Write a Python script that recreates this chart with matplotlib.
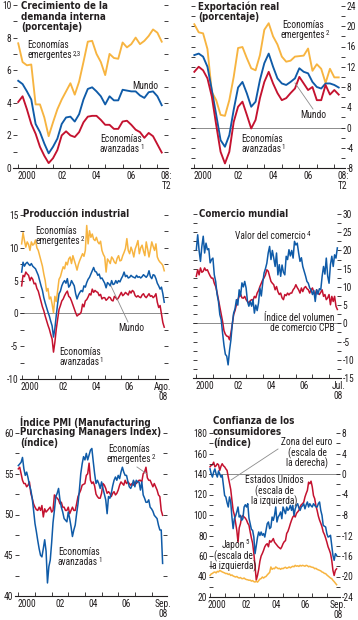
import matplotlib
matplotlib.use("Agg")
import matplotlib.pyplot as plt
import numpy as np
from matplotlib import font_manager
from matplotlib.font_manager import FontProperties
from matplotlib.textpath import TextPath

# --- fonts: the reference uses a condensed sans; take the installed face whose
# width is closest to it and size it so the text widths match.
WANT = {"Liberation Sans Narrow", "Liberation Sans", "DejaVu Sans", "Roboto", "Roboto Condensed",
        "Noto Sans", "Noto Sans Condensed", "Noto Sans SemiCondensed", "Open Sans",
        "Open Sans Condensed", "Lato", "Inter"}


def text_width(prop, s, size):
    return TextPath((0, 0), s, size=size, prop=prop).get_extents().width * 100 / 72


best = None
for f in font_manager.fontManager.ttflist:
    if f.name not in WANT or f.style != "normal" or f.weight not in (400, "normal", "regular"):
        continue
    w = text_width(FontProperties(fname=f.fname), "Valor del comercio", 7)
    if best is None or abs(w - 68) < best[0]:
        best = (abs(w - 68), w, f)
_, reg_w, reg_font = best
FS = float(np.clip(7 * 70 / reg_w, 6.3, 7.4))
plt.rcParams["font.family"] = [reg_font.name, "DejaVu Sans"]
plt.rcParams["font.stretch"] = reg_font.stretch
plt.rcParams["axes.unicode_minus"] = False

BOLD = FontProperties(family=["DejaVu Sans"], stretch="condensed", weight="bold")
TFS = float(np.clip(7 * 86 / text_width(BOLD, "Crecimiento de la", 7), 6.2, 7.6))
BOLD.set_size(TFS)

YELLOW = "#F7B440"
BLUE = "#0F5BA8"
RED = "#C4122F"
GREY = "#8C8C8C"
INK = "#231F20"

# ---------------- data ----------------
# quarterly, 2000:T1 .. 2008:T2
dem_emerg = [7.65, 6.5, 6.3, 6.35, 3.9, 3.9, 3.1, 1.95, 2.8, 3.6, 4.2, 4.7, 5.2, 4.5, 5.3, 6.5,
             7.75, 7.8, 7.0, 6.5, 5.7, 7.0, 6.75, 6.7, 7.7, 7.4, 7.6, 8.0, 7.6, 7.8, 8.1, 8.5, 8.3, 7.75]
dem_world = [5.35, 5.15, 4.7, 4.2, 2.7, 2.2, 1.5, 0.9, 1.3, 1.8, 2.7, 3.1, 3.15, 2.85, 3.3, 4.2,
             4.85, 4.95, 4.7, 4.4, 3.9, 4.4, 4.15, 4.15, 4.8, 4.75, 4.7, 4.7, 4.45, 4.3, 4.65, 4.7, 4.4, 3.85]
dem_adv = [4.05, 4.4, 3.6, 2.7, 2.1, 1.3, 0.75, 0.3, 0.6, 1.1, 2.0, 2.25, 2.0, 1.9, 2.2, 2.8,
           3.15, 3.2, 3.2, 2.95, 2.65, 2.65, 2.4, 2.4, 2.85, 2.9, 2.65, 2.35, 2.2, 1.85, 2.15, 1.95, 1.45, 0.95]

exp_emerg = [20.4, 18.8, 18.6, 15.5, 7.0, 5.4, 2.5, 2.3, 5.4, 10.0, 15.7, 15.9, 13.7, 11.7, 11.3, 14.3,
             19.3, 20.6, 18.0, 16.4, 14.0, 13.0, 13.2, 14.0, 14.1, 14.2, 15.6, 11.2, 12.5, 11.6, 8.8, 11.6, 9.9, 9.9]
exp_world = [14.3, 14.6, 14.0, 12.0, 7.4, 2.5, -2.5, -3.8, -1.5, 3.5, 7.9, 9.0, 6.75, 4.1, 5.1, 9.4,
             12.7, 14.6, 12.0, 9.7, 8.7, 8.4, 9.0, 9.7, 11.7, 11.0, 10.7, 9.0, 8.0, 7.7, 8.7, 8.7, 8.4, 7.9]
exp_adv = [11.0, 12.0, 11.3, 9.7, 6.1, 0.5, -4.8, -7.1, -4.8, 1.1, 4.1, 5.1, 2.5, -0.2, 1.5, 5.8,
           9.0, 11.0, 8.7, 6.8, 5.4, 5.8, 6.8, 7.7, 10.0, 8.7, 7.4, 8.0, 5.4, 5.4, 8.4, 6.5, 7.4, 6.5]

# monthly, ene-2000 .. ago-2008
ip_emerg = [10.6, 12.3, 11.1, 10.1, 10.9, 10.5, 9.6, 10.9, 10.4, 10.6, 11.2, 10.0,
            9.6, 8.8, 8.0, 7.2, 6.0, 5.0, 3.4, 3.8, 2.2, 2.5, 1.4, 0.1,
            2.6, 1.8, 3.5, 5.2, 5.6, 6.4, 7.1, 6.8, 7.8, 7.4, 8.3, 8.6,
            7.6, 8.8, 8.1, 7.4, 6.6, 7.5, 8.1, 8.6, 9.1, 8.7, 9.6, 13.4,
            10.6, 12.6, 11.6, 12.1, 11.3, 11.1, 11.6, 10.9, 10.6, 11.0, 9.6, 9.0,
            8.6, 6.3, 8.3, 8.0, 7.6, 8.6, 8.3, 7.8, 7.6, 8.4, 8.8, 8.0,
            8.1, 8.8, 9.3, 9.9, 11.4, 9.6, 9.1, 10.1, 9.5, 8.6, 9.8, 10.4,
            11.1, 9.1, 10.0, 10.4, 9.5, 8.8, 10.9, 9.8, 8.6, 9.7, 10.9, 10.2,
            9.6, 10.6, 8.6, 8.1, 7.8, 7.6, 7.3, 6.5]
ip_world = [6.3, 7.8, 7.2, 7.6, 7.8, 7.5, 7.3, 7.6, 7.2, 7.0, 6.8, 6.3,
            5.8, 5.0, 4.2, 3.5, 2.4, 1.6, 0.9, 0.2, -0.4, -1.2, -1.9, -3.6,
            -2.3, -0.3, 1.5, 3.0, 3.4, 4.2, 4.7, 5.0, 4.6, 5.3, 4.0, 4.3,
            5.0, 4.6, 4.2, 3.0, 2.2, 2.8, 3.2, 3.5, 3.3, 4.2, 4.0, 4.7,
            5.2, 5.5, 6.0, 6.5, 7.0, 6.4, 6.3, 5.8, 6.0, 5.3, 5.4, 5.0,
            4.6, 3.9, 4.7, 4.5, 4.2, 5.0, 4.4, 4.5, 5.0, 4.6, 5.0, 4.8,
            5.3, 5.7, 6.3, 5.6, 5.8, 5.4, 5.5, 5.8, 5.6, 5.5, 5.4, 5.8,
            5.5, 5.6, 5.4, 5.6, 5.9, 5.7, 5.5, 5.8, 6.5, 5.6, 5.3, 5.9,
            5.8, 5.3, 4.6, 4.2, 3.7, 4.0, 3.0, 1.7]
ip_adv = [4.2, 5.8, 5.6, 6.3, 6.0, 5.8, 5.0, 5.5, 5.2, 4.5, 4.6, 3.8,
          3.4, 2.6, 1.8, 1.0, 0.4, -0.4, -1.1, -1.8, -2.4, -3.2, -3.9, -5.9,
          -4.4, -2.4, -0.9, 0.6, 1.2, 1.9, 2.2, 2.7, 3.1, 3.4, 2.6, 2.4,
          1.9, 1.3, 0.7, 0.1, -0.4, -0.2, -0.1, 0.2, 1.4, 1.0, 1.9, 2.1,
          2.5, 3.0, 2.8, 3.7, 3.2, 3.5, 3.3, 3.2, 2.7, 2.9, 2.2, 2.4,
          2.4, 2.0, 2.2, 2.5, 2.4, 2.0, 1.9, 2.6, 2.4, 2.1, 2.4, 2.8,
          3.2, 2.7, 2.9, 3.2, 3.0, 2.8, 3.4, 3.1, 3.5, 3.3, 2.7, 2.5,
          2.7, 2.5, 2.4, 2.8, 3.0, 2.6, 2.4, 2.7, 3.0, 2.6, 2.7, 2.4,
          2.6, 3.0, 1.7, 0.9, 1.2, -0.1, -1.4, -2.1]

# monthly, ene-2000 .. jul-2008
trade_value = [20.2, 24.3, 20.0, 17.0, 21.1, 23.9, 19.3, 22.0, 20.2, 20.5, 16.6, 17.5,
               17.9, 13.3, 11.5, 8.0, 6.0, 2.4, 1.0, -2.7, -6.0, -8.5, -9.0, -11.4,
               -7.5, -4.6, -0.3, 2.8, 4.0, 6.5, 5.0, 9.2, 7.5, 11.1, 10.0, 11.5,
               9.7, 6.0, 4.7, 6.0, 4.7, 6.5, 2.8, 5.0, 3.5, 5.6, 9.7, 7.5,
               11.0, 13.8, 15.0, 16.5, 19.3, 21.1, 17.5, 20.0, 17.9, 15.6, 19.3, 13.3,
               16.1, 12.9, 16.0, 14.0, 13.3, 18.4, 17.5, 20.2, 18.5, 20.0, 17.9, 22.5,
               21.5, 22.0, 19.3, 17.0, 18.0, 15.6, 14.3, 13.0, 11.5, 11.0, 9.7, 9.2,
               7.9, 9.0, 6.0, 9.2, 8.0, 9.5, 9.2, 12.9, 15.6, 13.5, 17.9, 13.0,
               11.0, 16.1, 18.4, 15.6, 18.8, 17.9, 20.7]
trade_volume = [12.9, 14.7, 13.3, 15.2, 14.0, 14.3, 15.2, 14.5, 14.7, 13.8, 13.0, 12.4,
                12.4, 11.0, 10.1, 8.5, 6.5, 4.5, 2.5, 0.5, -2.0, -3.0, -3.5, -3.6,
                -4.5, -2.7, -0.3, 2.4, 3.5, 5.1, 6.5, 7.4, 8.0, 7.0, 6.9, 7.4,
                6.5, 6.0, 5.6, 6.2, 6.5, 6.3, 7.4, 7.0, 8.3, 9.0, 10.1, 11.0,
                11.9, 12.5, 13.3, 14.7, 14.3, 12.9, 11.5, 11.0, 10.6, 9.2, 10.1, 8.7,
                7.9, 8.3, 7.0, 6.5, 7.9, 7.6, 8.3, 7.8, 8.3, 8.3, 9.2, 9.7,
                10.6, 9.8, 9.2, 8.3, 9.7, 8.7, 9.7, 10.1, 9.5, 9.2, 8.3, 9.2,
                9.7, 8.5, 7.9, 9.2, 8.3, 7.9, 8.5, 9.2, 7.4, 7.9, 6.5, 7.0,
                7.9, 5.1, 7.4, 6.0, 7.4, 4.7, 3.8]

# monthly, ene-2000 .. sep-2008
pmi_adv = [56.0, 56.2, 56.4, 57.0, 55.6, 54.8, 55.2, 54.5, 53.6, 53.0, 52.0, 50.5,
           48.9, 47.9, 46.8, 45.8, 45.0, 44.8, 45.8, 46.9, 45.5, 41.6, 43.6, 44.4,
           46.5, 49.0, 50.5, 52.2, 52.6, 53.2, 51.8, 50.9, 50.3, 49.5, 49.3, 49.1,
           50.3, 49.5, 48.5, 47.3, 48.1, 48.7, 50.1, 51.3, 53.0, 55.0, 56.2, 57.1,
           56.7, 57.5, 56.7, 57.3, 57.9, 58.1, 56.5, 55.0, 53.8, 54.2, 53.8, 53.2,
           54.0, 53.2, 52.5, 51.8, 50.1, 52.2, 52.0, 52.6, 53.5, 54.2, 54.6, 54.2,
           54.8, 54.4, 55.2, 55.8, 55.2, 54.8, 54.8, 54.0, 53.4, 53.2, 53.6, 54.2,
           53.4, 54.2, 54.0, 54.0, 53.0, 54.0, 52.4, 52.0, 51.5, 51.5, 51.8, 50.9,
           50.7, 50.4, 49.9, 49.7, 49.5, 48.7, 48.1, 48.1, 44.0]
pmi_emerg = [55.6, 55.8, 55.0, 54.2, 53.8, 53.8, 53.4, 53.6, 54.0, 52.6, 52.0, 51.3,
             50.9, 50.6, 50.5, 50.9, 50.5, 51.1, 49.7, 50.7, 50.3, 50.5, 50.7, 50.9,
             50.3, 50.5, 52.4, 52.2, 52.0, 51.8, 51.3, 51.5, 50.9, 50.9, 50.5, 50.5,
             50.9, 50.1, 50.5, 50.9, 50.5, 50.5, 51.3, 52.2, 52.6, 53.0, 53.6, 53.7,
             53.8, 54.8, 55.0, 56.3, 54.2, 53.8, 54.0, 53.5, 52.5, 52.2, 52.0, 52.0,
             52.6, 53.8, 53.6, 53.2, 52.6, 52.8, 52.6, 52.2, 52.6, 52.8, 52.4, 52.6,
             53.0, 53.6, 54.0, 53.8, 53.6, 54.2, 53.8, 54.0, 53.8, 53.6, 53.8, 53.6,
             54.0, 53.8, 54.0, 54.2, 54.2, 54.0, 55.0, 55.2, 55.8, 54.5, 54.2, 54.2,
             53.8, 53.4, 53.8, 53.4, 53.0, 52.4, 52.2, 50.5, 49.9]

conf_us = [145, 140, 137, 142, 145, 140, 137, 143, 140, 137, 138.7, 129,
           119, 117.6, 112, 107.8, 117.6, 112.7, 98, 86.7, 96.4, 99, 103, 107.8,
           98, 99.7, 94.8, 96.4, 107.8, 110, 107.8, 111, 97, 91.5, 86, 85,
           78.5, 62.3, 70, 78, 83.4, 80, 83.4, 80.2, 81.8, 78.5, 85, 91.5,
           93.2, 86.7, 88, 98, 94.8, 99.7, 107.8, 93.2, 98, 100, 103, 96.4,
           107.8, 104.5, 101.3, 107.8, 104.5, 106, 109.4, 104.5, 109.4, 99.7, 106, 109.4,
           111, 107, 104.5, 107.8, 109, 111, 106, 110, 112.7, 107.8, 111, 109,
           107.8, 111, 109.4, 108, 107.8, 111, 112.7, 104.5, 99.7, 90, 89, 88.3,
           81.8, 78.5, 79, 80.2, 70.4, 60.6, 55.8, 62.3, 60.6]
conf_euro = [1.4, 1.7, 1.8, 2.3, 1.4, 1.6, 2.0, 1.8, 0.7, 1.5, 2.0, 1.6,
             1.4, 1.0, 0.7, -0.6, -1.8, -3.0, -5.1, -7.1, -8.0, -9.5, -11.0, -13.3,
             -10.5, -9.7, -8.4, -8.1, -8.4, -8.6, -9.0, -9.6, -10.0, -11.3, -12.5, -13.5,
             -15.5, -18.0, -20.7, -19.8, -18.6, -17.0, -16.0, -15.5, -14.9, -14.2, -13.8, -13.6,
             -14.2, -13.0, -13.3, -13.0, -12.6, -13.3, -13.6, -13.9, -14.2, -14.4, -14.6, -14.2,
             -13.6, -13.2, -13.0, -11.6, -11.2, -10.5, -9.7, -9.0, -8.4, -8.1, -8.4, -7.7,
             -7.4, -7.1, -6.4, -6.0, -5.8, -5.5, -4.5, -3.8, -3.2, -1.6, -1.9, -1.4,
             -2.5, -4.2, -4.8, -6.2, -7.1, -8.2, -9.0, -9.6, -10.3, -11.3, -11.8, -12.5,
             -13.3, -14.2, -14.8, -15.5, -16.8, -18.8, -19.8, -18.8, -18.5]
conf_japan = [41.0, 42.5, 43.0, 44.0, 44.4, 43.5, 45.0, 44.5, 46.0, 45.2, 44.5, 44.0,
              43.5, 42.8, 43.0, 42.0, 42.5, 41.0, 41.5, 40.5, 40.0, 39.5, 40.0, 39.0,
              38.5, 39.0, 38.0, 37.9, 38.5, 37.5, 37.0, 36.8, 36.3, 36.5, 35.5, 36.0,
              35.0, 34.6, 35.5, 34.5, 36.0, 37.5, 38.0, 39.5, 38.5, 39.5, 40.0, 41.5,
              42.8, 44.0, 49.3, 47.0, 48.0, 47.6, 49.3, 48.5, 47.6, 48.0, 47.0, 48.0,
              47.6, 48.5, 49.0, 48.0, 48.5, 49.3, 48.5, 49.3, 50.0, 49.5, 50.9, 50.0,
              50.5, 49.8, 50.9, 50.2, 50.9, 50.5, 50.0, 50.9, 50.5, 49.5, 50.0, 49.3,
              49.0, 48.8, 47.6, 48.0, 47.0, 46.5, 46.0, 45.5, 44.4, 44.0, 43.0, 42.8,
              41.5, 40.5, 39.5, 38.5, 37.9, 36.3, 35.0, 33.5, 32.0]

quarters = 2000 + np.arange(len(dem_world)) / 4


def months(series):
    return 2000 + np.arange(len(series)) / 12


# ---------------- layout helpers ----------------
W, H = 358, 620
fig = plt.figure(figsize=(W / 100, H / 100), dpi=100)
renderer = fig.canvas.get_renderer()
TITLE_PITCH = 10.6
NOTE_PITCH = 10.3


def panel(l, r, t, b):
    return fig.add_axes([l / W, 1 - b / H, (r - l) / W, (b - t) / H])


def title(x, y, lines):
    # one text per line, so each line keeps its own box
    for i, s in enumerate(lines):
        fig.text(x / W, 1 - (y + i * TITLE_PITCH) / H, s, va="top", ha="left", color=INK,
                 fontproperties=BOLD)


def note(x, y, lines, sup=None, ha="left", sup_line=-1):
    idx = sup_line % len(lines)
    for i, s in enumerate(lines):
        t = fig.text(x / W, 1 - (y + i * NOTE_PITCH) / H, s, ha=ha, va="top",
                     fontsize=FS, color=INK)
        if sup and i == idx:
            bb = t.get_window_extent(renderer)
            fig.text((bb.x1 + 0.6) / W, (bb.y1 + 0.5) / H, sup, ha="left", va="top",
                     fontsize=FS * 0.72, color=INK)


def leader(x0, y0, x1, y1):
    fig.add_artist(plt.Line2D([x0 / W, x1 / W], [1 - y0 / H, 1 - y1 / H],
                              color=GREY, lw=0.6))


def frame(ax, xlim, ylim, major, minor, label_side, last):
    ax.set_xlim(*xlim)
    ax.set_ylim(*ylim)
    for s in ("top", "left", "right"):
        ax.spines[s].set_visible(False)
    ax.spines["bottom"].set_linewidth(0.8)
    ax.spines["bottom"].set_color(INK)
    ax.patch.set_visible(False)
    # years: ticks at boundaries, labels at mid-year
    ax.set_xticks(np.arange(2000, 2009))
    ax.set_xticklabels([])
    ax.set_xticks([2000.5, 2002.5, 2004.5, 2006.5, last[0]], minor=True)
    ax.set_xticklabels(["2000", "02", "04", "06", last[1]], minor=True)
    ax.tick_params(axis="x", which="major", direction="in", length=3, width=0.6, color=INK)
    ax.tick_params(axis="x", which="minor", length=0, pad=2.5, labelsize=FS, labelcolor=INK)
    ax.set_yticks(major)
    ax.set_yticks(minor, minor=True)
    ax.tick_params(axis="y", which="both", direction="in", length=3, width=0.6, color=INK,
                   left=True, right=True, labelleft=(label_side == "left"),
                   labelright=(label_side == "right"), labelsize=FS, labelcolor=INK, pad=1.2)
    for lab in ax.get_xticklabels(minor=True):
        lab.set_linespacing(1.0)


LW = 1.35
LWM = 1.1

# ---------- 1. Crecimiento de la demanda interna ----------
ax1 = panel(13, 168, 5, 168)
frame(ax1, (1999.70, 2008.61), (0, 10), np.arange(0, 11, 2), np.arange(0, 11, 1), "left",
      (2008.5, "08:\nT2"))
ax1.plot(quarters, dem_emerg, color=YELLOW, lw=LW)
ax1.plot(quarters, dem_world, color=BLUE, lw=LW)
ax1.plot(quarters, dem_adv, color=RED, lw=LW)
title(21, 1, ["Crecimiento de la", "demanda interna", "(porcentaje)"])
note(27, 40, ["Economías", "emergentes"], "2,3")
note(132, 81, ["Mundo"])
note(100, 134, ["Economías", "avanzadas"], "1")

# ---------- 2. Exportación real ----------
ax2 = panel(191, 345, 6, 168)
frame(ax2, (1999.81, 2008.61), (-8, 24), np.arange(-8, 25, 4), np.arange(-8, 25, 2), "right",
      (2008.5, "08:\nT2"))
ax2.axhline(0, color=GREY, lw=0.7, zorder=1)
ax2.plot(quarters, exp_emerg, color=YELLOW, lw=LW)
ax2.plot(quarters, exp_world, color=BLUE, lw=LW)
ax2.plot(quarters, exp_adv, color=RED, lw=LW)
title(198, 1, ["Exportación real", "(porcentaje)"])
note(303, 20, ["Economías", "emergentes"], "2", ha="center")
note(300, 110, ["Mundo"])
leader(295, 83, 313, 109)
note(241, 134, ["Economías", "avanzadas"], "1")

# ---------- 3. Producción industrial ----------
ax3 = panel(20, 168, 215, 379)
frame(ax3, (1999.90, 2008.81), (-10, 15), np.arange(-10, 16, 5), np.arange(-10, 16, 2.5), "left",
      (2008.51, "Ago.\n08"))
ax3.axhline(0, color=GREY, lw=0.7, zorder=1)
ax3.plot(months(ip_emerg), ip_emerg, color=YELLOW, lw=LWM)
ax3.plot(months(ip_world), ip_world, color=BLUE, lw=LWM)
ax3.plot(months(ip_adv), ip_adv, color=RED, lw=LWM)
title(23, 209, ["Producción industrial"])
note(35, 226, ["Economías", "emergentes"], "2")
note(118, 323, ["Mundo"])
leader(111, 286, 128, 322)
note(59, 347, ["Economías", "avanzadas"], "1")

# ---------- 4. Comercio mundial ----------
ax4 = panel(193, 341, 214, 378)
frame(ax4, (1999.80, 2008.72), (-15, 30), np.arange(-15, 31, 5), np.arange(-15, 31, 2.5), "right",
      (2008.55, "Jul.\n08"))
ax4.axhline(0, color=GREY, lw=0.7, zorder=1)
ax4.plot(months(trade_volume), trade_volume, color=RED, lw=LWM)
ax4.plot(months(trade_value), trade_value, color=BLUE, lw=LWM)
title(199, 209, ["Comercio mundial"])
note(235, 231, ["Valor del comercio"], "4")
note(335, 313, ["Índice del volumen", "de comercio CPB"], ha="right")

# ---------- 5. Índice PMI ----------
ax5 = panel(15, 167, 433, 596)
frame(ax5, (1999.80, 2008.93), (40, 60), np.arange(40, 61, 5), np.arange(40, 61, 2.5), "left",
      (2008.7, "Sep.\n08"))
ax5.plot(months(pmi_emerg), pmi_emerg, color=RED, lw=LWM)
ax5.plot(months(pmi_adv), pmi_adv, color=BLUE, lw=LWM)
title(20, 416, ["Índice PMI (Manufacturing", "Purchasing Managers Index)", "(índice)"])
note(129, 444, ["Economías", "emergentes"], "2", ha="center")
leader(137, 467, 147, 474)
note(58, 547, ["Economías", "avanzadas"], "1")

# ---------- 6. Confianza de los consumidores ----------
ax6 = panel(209, 340, 433, 597)
ax6r = ax6.twinx()
frame(ax6, (1999.93, 2008.90), (20, 180), np.arange(20, 181, 20), np.arange(20, 181, 10), "left",
      (2008.75, "Sep.\n08"))
ax6.tick_params(axis="y", which="both", right=False)
ax6r.set_ylim(-24, 8)
for s in ("top", "left", "right", "bottom"):
    ax6r.spines[s].set_visible(False)
ax6r.set_yticks(np.arange(-24, 9, 4))
ax6r.set_yticks(np.arange(-24, 9, 2), minor=True)
ax6r.tick_params(axis="y", which="both", direction="in", length=3, width=0.6, color=INK,
                 labelsize=FS, labelcolor=INK, pad=1.2)
ax6r.axhline(0, color=GREY, lw=0.7, zorder=1)
ax6r.plot(months(conf_euro), conf_euro, color=RED, lw=LWM)
ax6.set_zorder(ax6r.get_zorder() + 1)
ax6.plot(months(conf_japan), conf_japan, color=YELLOW, lw=LWM)
ax6.plot(months(conf_us), conf_us, color=BLUE, lw=LWM)
title(213, 416, ["Confianza de los", "consumidores", "(índice)"])
note(307, 437, ["Zona del euro", "(escala de", "la derecha)"], ha="center")
leader(278, 449, 231, 480)
note(274, 475, ["Estados Unidos", "(escala de", "la izquierda)"], ha="center")
note(233, 540, ["Japón", "(escala de", "la izquierda)"], "5", ha="center", sup_line=0)

fig.savefig("out.png", dpi=100)
